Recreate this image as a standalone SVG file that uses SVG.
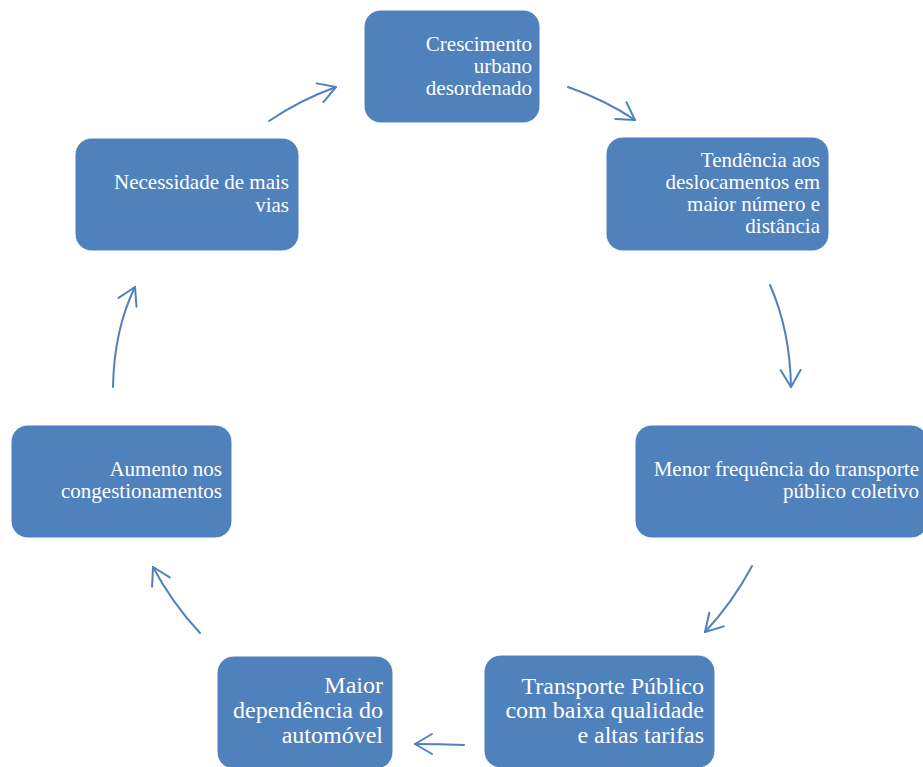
<svg xmlns="http://www.w3.org/2000/svg" width="923" height="767" viewBox="0 0 923 767">
<style>
.box{fill:#4F81BD;stroke:#ffffff;stroke-width:1}
.t{font-family:"Liberation Serif","Times New Roman",serif;fill:#ffffff;text-anchor:end;font-size:21px}
.t24{font-size:24px}
.c{fill:none;stroke:#4F81BD;stroke-width:2;stroke-linecap:round;marker-end:url(#ah)}
</style>
<defs>
<marker id="ah" markerUnits="userSpaceOnUse" markerWidth="40" markerHeight="40" refX="0" refY="0" viewBox="-20 -20 40 40" orient="auto" overflow="visible">
<path d="M-17,-10 L0,0 L-17,10" fill="none" stroke="#4F81BD" stroke-width="2" stroke-linecap="round" stroke-linejoin="round"/>
</marker>
</defs>
<rect width="923" height="767" fill="#ffffff"/>
<g id="connectors">
<path class="c" d="M568,87 Q605,100 635,120"/>
<path class="c" d="M770,285 Q790,330 791,387"/>
<path class="c" d="M752,566 Q733,602 705,632"/>
<path class="c" d="M464,745 Q440,744 415,744"/>
<path class="c" d="M200,633 Q172,603 153,567"/>
<path class="c" d="M113,387 Q114,330 135,287"/>
<path class="c" d="M269,121 Q300,100 336,87"/>
</g>
<g id="n1">
<rect class="box" x="364" y="10" width="176" height="113" rx="17"/>
<text class="t" x="532" y="51">Crescimento</text>
<text class="t" x="532" y="73">urbano</text>
<text class="t" x="532" y="95">desordenado</text>
</g>
<g id="n2">
<rect class="box" x="606" y="137" width="223" height="114" rx="17"/>
<text class="t" x="820" y="167">Tendência aos</text>
<text class="t" x="820" y="189">deslocamentos em</text>
<text class="t" x="820" y="211">maior número e</text>
<text class="t" x="820" y="233">distância</text>
</g>
<g id="n3">
<rect class="box" x="635" y="425" width="293" height="113" rx="17"/>
<text class="t" x="919" y="476">Menor frequência do transporte</text>
<text class="t" x="919" y="498">público coletivo</text>
</g>
<g id="n4">
<rect class="box" x="484" y="655" width="231" height="113" rx="17"/>
<text class="t t24" x="704" y="694">Transporte Público</text>
<text class="t t24" x="704" y="718">com baixa qualidade</text>
<text class="t t24" x="704" y="743">e altas tarifas</text>
</g>
<g id="n5">
<rect class="box" x="217" y="656" width="176" height="113" rx="17"/>
<text class="t t24" x="383" y="693">Maior</text>
<text class="t t24" x="383" y="718">dependência do</text>
<text class="t t24" x="383" y="743">automóvel</text>
</g>
<g id="n6">
<rect class="box" x="11" y="425" width="221" height="113" rx="17"/>
<text class="t" x="222" y="476">Aumento nos</text>
<text class="t" x="222" y="498">congestionamentos</text>
</g>
<g id="n7">
<rect class="box" x="75" y="138" width="224" height="113" rx="17"/>
<text class="t" x="289" y="189">Necessidade de mais</text>
<text class="t" x="289" y="212">vias</text>
</g>
</svg>
